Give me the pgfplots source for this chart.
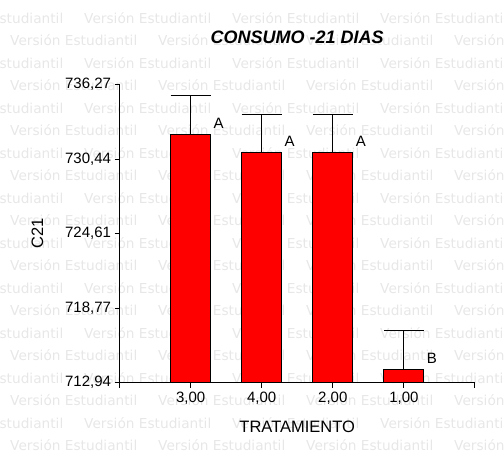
\documentclass[border=0pt]{standalone}
\usepackage{fontspec}
\setmainfont{Liberation Sans}
\newfontfamily\wmfont{DejaVu Sans}
\usepackage{pgfplots}
\pgfplotsset{compat=1.18}
\definecolor{wm}{RGB}{231,231,231}
\definecolor{barred}{RGB}{255,0,0}
\begin{document}
\begin{tikzpicture}
\useasboundingbox (0,0) rectangle (504bp,454bp);
\begin{scope}[x=1bp,y=1bp]
\clip (0,0) rectangle (504,454);
\foreach \i in {0,...,19} {
  \pgfmathsetmacro\yy{454-18-22.5*\i}
  \pgfmathsetmacro\xs{mod(\i,2)==0 ? -64 : 10}
  \foreach \j in {0,...,4} {
    \node[anchor=west, inner sep=0pt, text=wm, font=\wmfont\fontsize{13.7bp}{16bp}\selectfont] at ({\xs+148*\j},\yy) {Versión Estudiantil};
  }
}
\end{scope}
\begin{axis}[
  at={(119.5bp,71.3bp)}, anchor=south west,
  scale only axis, width=355.5bp, height=298.2bp,
  xmin=-1, xmax=4, ymin=712.94, ymax=736.27,
  axis x line*=bottom, axis y line*=left,
  axis line style={-, line width=1bp, black},
  xtick={-1,0,1,2,3,4},
  xticklabels={,{3,00},{4,00},{2,00},{1,00},},
  ytick={712.94,718.7725,724.605,730.4375,736.27},
  yticklabels={{712,94},{718,77},{724,61},{730,44},{736,27}},
  tick align=outside, major tick length=5bp,
  tick style={line width=1bp, black},
  tick label style={font=\fontsize{15bp}{17bp}\selectfont},
  xticklabel style={yshift=-1bp},
  label style={font=\fontsize{16.5bp}{19bp}\selectfont},
  xlabel={TRATAMIENTO},
  xlabel style={at={(axis description cs:0.5,-0.148)}, anchor=center},
  ylabel={C21},
  ylabel style={at={(axis description cs:-0.231,0.5)}, anchor=center},
  title={CONSUMO -21 DIAS},
  title style={at={(axis description cs:0.5,1)}, anchor=center, yshift=41.5bp, font=\fontsize{18bp}{21bp}\selectfont\bfseries\itshape},
]
\addplot[ybar, bar width=0.565, bar shift=0pt, fill=barred, draw=black, line width=1bp,
  error bars/.cd, y dir=plus, y explicit,
  error bar style={line width=1bp, black},
  error mark options={rotate=90, black, line width=1bp, mark size=20bp}]
  table[x=x, y=y, y error=e] {
x y e
0 732.38 3.02
1 730.97 2.94
2 730.97 2.94
3 713.99 3.07
};
\addplot[draw=none, mark=none, nodes near coords, point meta=explicit symbolic,
  nodes near coords style={anchor=base, xshift=28bp, yshift=6bp, font=\fontsize{15bp}{17bp}\selectfont, text=black}]
  table[x=x, y=y, meta=l] {
x y l
0 732.38 A
1 730.97 A
2 730.97 A
3 713.99 B
};
\end{axis}
\end{tikzpicture}
\end{document}
